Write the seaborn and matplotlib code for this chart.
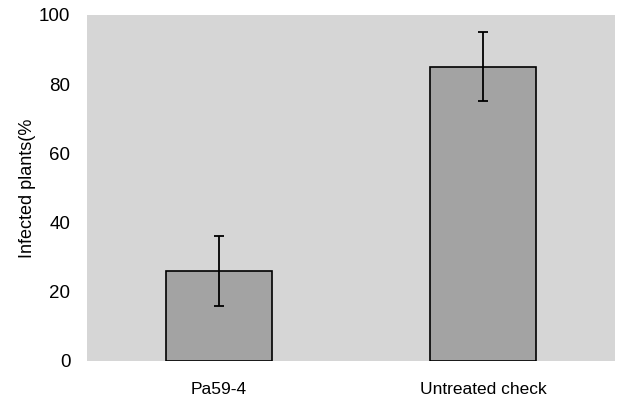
import matplotlib as mpl
mpl.use("Agg")
import matplotlib.pyplot as plt
import numpy as np
import pandas as pd
import seaborn as sns

treatments = ["Pa59-4", "Untreated check"]
infected = [26, 85]
err = [10, 10]

sns.set_style("white")
plt.rcParams['font.family'] = ['Liberation Sans', 'DejaVu Sans']

df = pd.DataFrame({"treatment": treatments, "infected": infected})

fig = plt.figure(figsize=(6.18, 4.01), dpi=100)
ax = fig.add_axes([0.141, 0.10, 0.854, 0.863])
ax.set_facecolor("#d6d6d6")

sns.barplot(data=df, x="treatment", y="infected", color="#a3a3a3",
            edgecolor="black", linewidth=1.2, width=0.4, saturation=1,
            errorbar=None, ax=ax)
ax.errorbar(np.arange(len(treatments)), infected, yerr=err, fmt="none",
            ecolor="black", elinewidth=1.3, capsize=3.5, capthick=1.3)

ax.set_xlim(-0.5, 1.5)
ax.set_ylim(0, 100)
ax.set_yticks([0, 20, 40, 60, 80, 100])
ax.set_xlabel("")
ax.set_ylabel("Infected plants(%", fontsize=13, color="black", labelpad=2)
ax.tick_params(axis="y", length=0, labelsize=13.5, pad=12, labelcolor="black")
ax.tick_params(axis="x", length=0, labelsize=12.5, pad=15, labelcolor="black")
for s in ax.spines.values():
    s.set_visible(False)

plt.savefig("out.png", dpi=100)
